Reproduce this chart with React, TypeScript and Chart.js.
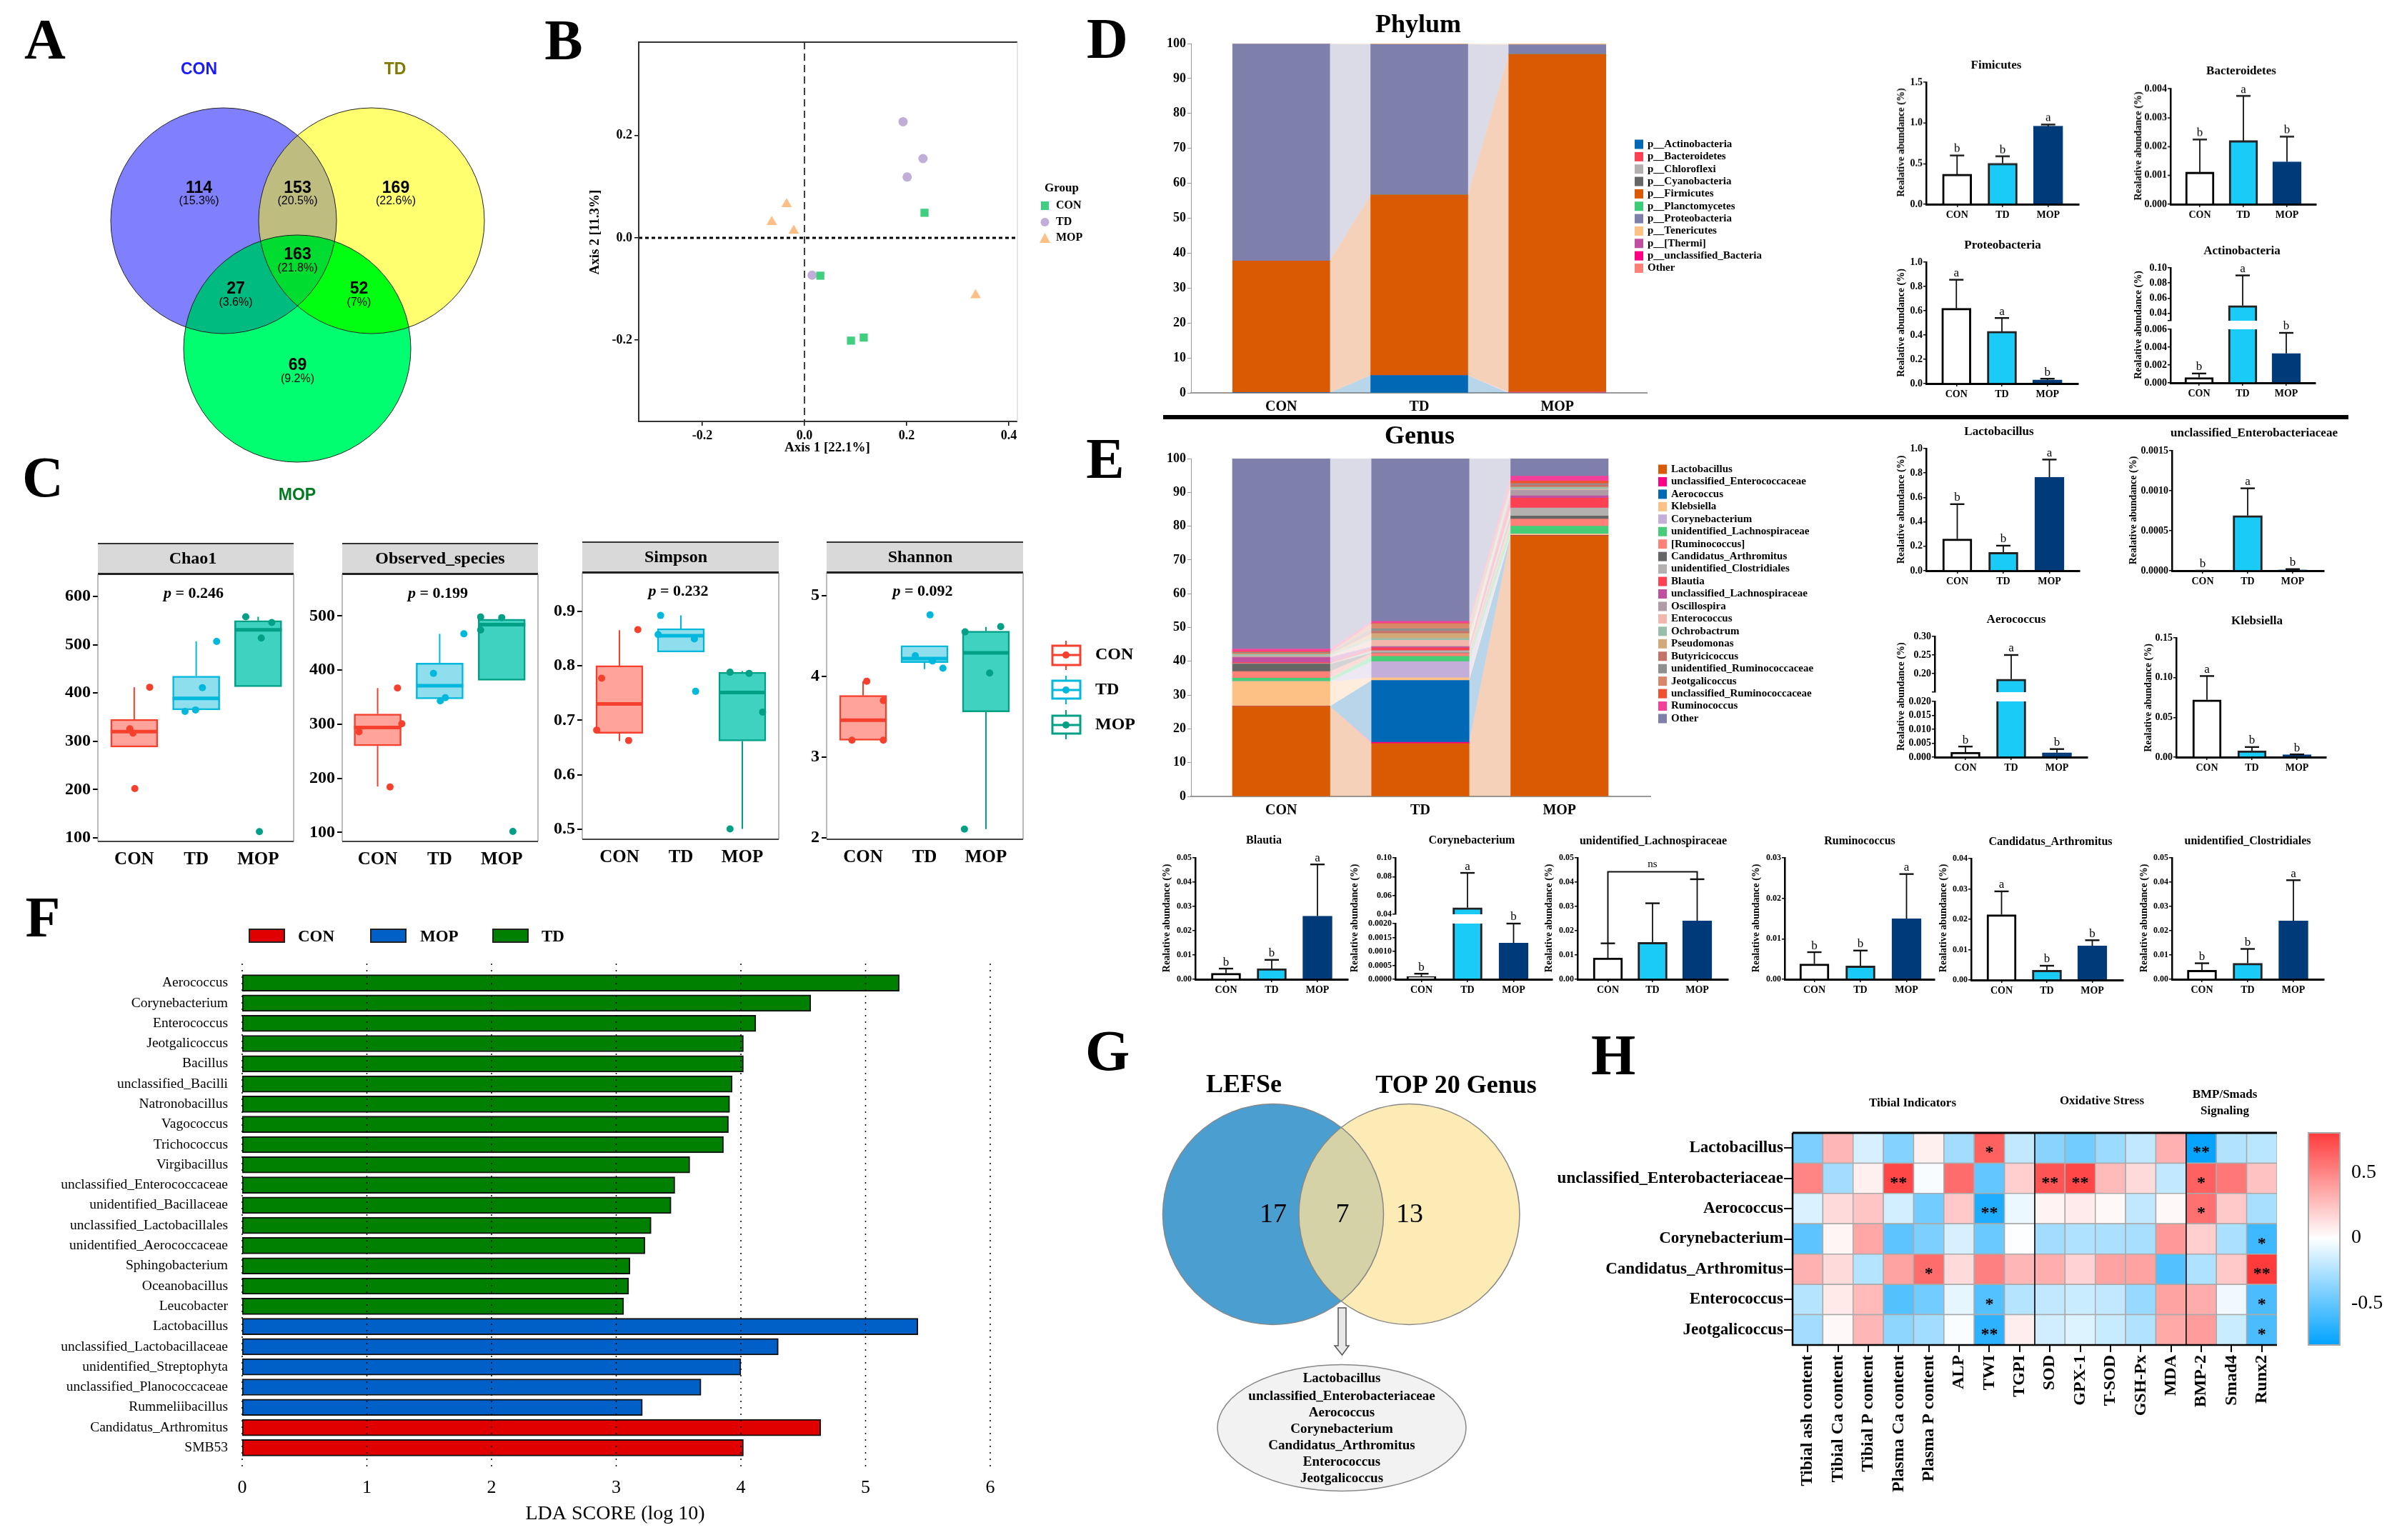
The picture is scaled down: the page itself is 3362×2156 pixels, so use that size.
import React, { useEffect, useRef } from 'react';
import { Chart, registerables } from 'chart.js';

Chart.register(...registerables);
Chart.defaults.font.family = '"Liberation Serif"';
Chart.defaults.color = '#000';

// ---------- DATA ----------
const categories = ['CON', 'TD', 'MOP'];

// PCoA
const pcoaCon = [[0.235, 0.049], [0.031, -0.074], [0.116, -0.195], [0.091, -0.201]];
const pcoaTd = [[0.193, 0.227], [0.232, 0.155], [0.201, 0.119], [0.015, -0.073]];
const pcoaMop = [[-0.035, 0.066], [-0.064, 0.031], [-0.021, 0.014], [0.335, -0.112]];

// Box plots: [q1, median, q3, whiskerLow, whiskerHigh]
const chao1Box = [[288, 320, 345.5, 288, 412], [365, 389, 435, 365, 507], [413, 531, 550, 413, 558]];
const chao1Pts = [[1.25, 412], [1.01, 202], [0.93, 326], [0.98, 317], [2.33, 507], [2.1, 411], [1.82, 362], [1.99, 365], [2.8, 558], [3.22, 546], [3.05, 514], [3.02, 113]];
const observedBox = [[260, 294, 319, 185, 367], [347, 371, 413, 347, 467], [381, 484, 494, 381, 498]];
const observedPts = [[1.32, 367], [1.2, 184], [1.39, 301], [0.7, 286], [2.39, 467], [1.9, 394], [2.09, 349], [2.01, 343], [2.66, 498], [2.66, 474], [3.18, 102], [3.0, 497]];
const simpsonBox = [[0.676, 0.73, 0.8, 0.662, 0.865], [0.825, 0.855, 0.868, 0.825, 0.892], [0.662, 0.751, 0.788, 0.501, 0.79]];
const simpsonPts = [[1.3, 0.866], [0.71, 0.777], [0.63, 0.682], [1.15, 0.663], [1.67, 0.892], [1.63, 0.857], [2.22, 0.849], [2.24, 0.753], [2.8, 0.788], [3.11, 0.786], [3.33, 0.715], [2.8, 0.501]];
const shannonBox = [[3.208, 3.457, 3.763, 3.208, 3.94], [4.17, 4.22, 4.38, 4.09, 4.38], [3.56, 4.29, 4.56, 2.11, 4.61]];
const shannonPts = [[1.06, 3.94], [1.33, 3.7], [0.82, 3.21], [1.33, 3.21], [2.09, 4.76], [1.85, 4.255], [2.13, 4.19], [2.3, 4.1], [3.24, 4.615], [2.66, 4.55], [3.06, 4.04], [2.65, 2.11]];

// Stacked phylum
const phylumNames = ['p__Actinobacteria', 'p__Bacteroidetes', 'p__Chloroflexi', 'p__Cyanobacteria', 'p__Firmicutes', 'p__Planctomycetes', 'p__Proteobacteria', 'p__Tenericutes', 'p__[Thermi]', 'p__unclassified_Bacteria', 'Other'];
const phylumCon = [0.05, 0, 0, 0, 37.7, 0, 62.15, 0.1, 0, 0, 0];
const phylumTd = [5, 0, 0, 0, 51.7, 0, 43.1, 0.2, 0, 0, 0];
const phylumMop = [0, 0.3, 0, 0, 96.6, 0, 2.8, 0.3, 0, 0, 0];
const phylumColors = ['#0168b5', '#fd4152', '#b4b0b0', '#666666', '#da5a03', '#3ccb78', '#7f7fab', '#fdc085', '#c0509f', '#ff0085', '#ff8076'];

// Stacked genus
const genusNames = ['Lactobacillus', 'unclassified_Enterococcaceae', 'Aerococcus', 'Klebsiella', 'Corynebacterium', 'unidentified_Lachnospiraceae', '[Ruminococcus]', 'Candidatus_Arthromitus', 'unidentified_Clostridiales', 'Blautia', 'unclassified_Lachnospiraceae', 'Oscillospira', 'Enterococcus', 'Ochrobactrum', 'Pseudomonas', 'Butyricicoccus', 'unidentified_Ruminococcaceae', 'Jeotgalicoccus', 'unclassified_Ruminococcaceae', 'Ruminococcus', 'Other'];
const genusCon = [26.7, 0, 0, 7.3, 0.1, 0.9, 2, 2.2, 0.15, 0.25, 1.5, 0.3, 0.2, 0.4, 0.2, 0.2, 0.25, 0.05, 0.2, 0.75, 56.35];
const genusTd = [15.7, 0.35, 18.3, 0.8, 4.8, 1.5, 0.9, 0.15, 0.65, 0.8, 0.3, 0.2, 1.8, 0.5, 1.5, 0.7, 0.7, 1.5, 0.1, 0.6, 48.15];
const genusMop = [77.2, 0, 0.1, 0.4, 0, 2.3, 2.1, 0.9, 2.4, 2.9, 0.7, 1.7, 0.2, 0.6, 0.1, 0.6, 0.4, 0, 0.8, 1.4, 5.2];
const genusColors = ['#da5a03', '#ff0085', '#0168b5', '#fdc085', '#c2aed8', '#45cd78', '#ff8076', '#666666', '#b4b0b0', '#fd4152', '#c0509f', '#b09aa5', '#f2b6ac', '#98bfab', '#d2aa78', '#c57368', '#908f90', '#d88868', '#f05030', '#f5409b', '#7f7fab'];
const stackTicks = [0, 10, 20, 30, 40, 50, 60, 70, 80, 90, 100];

// Small bar panels: means, upper error ends, letters
const firmMeans = [0.37, 0.505, 0.96]; const firmUpper = [0.6, 0.59, 0.98]; const firmLetters = ['b', 'b', 'a'];
const bactMeans = [0.00111, 0.0022, 0.00147]; const bactUpper = [0.00224, 0.00375, 0.00234]; const bactLetters = ['b', 'a', 'b'];
const protMeans = [0.62, 0.43, 0.03]; const protUpper = [0.855, 0.54, 0.04]; const protLetters = ['a', 'a', 'b'];
const actiMeans = [0.0006, 0.05, 0.0033]; const actiUpper = [0.00105, 0.09, 0.0056]; const actiLetters = ['b', 'a', 'b'];
const lactMeans = [0.26, 0.15, 0.765]; const lactUpper = [0.545, 0.205, 0.91]; const lactLetters = ['b', 'b', 'a'];
const enteMeans = [0, 0.00069, 0.00001]; const enteUpper = [0, 0.00103, 0.00002]; const enteLetters = ['b', 'a', 'b'];
const aeroMeans = [0.0018, 0.185, 0.0016]; const aeroUpper = [0.0038, 0.25, 0.0029]; const aeroLetters = ['b', 'a', 'b'];
const klebMeans = [0.072, 0.008, 0.003]; const klebUpper = [0.102, 0.0127, 0.0035]; const klebLetters = ['a', 'b', 'b'];
const blauMeans = [0.0025, 0.0044, 0.026]; const blauUpper = [0.0044, 0.008, 0.0473]; const blauLetters = ['b', 'b', 'a'];
const coryMeans = [0.0001, 0.047, 0.0013]; const coryUpper = [0.0002, 0.084, 0.002]; const coryLetters = ['b', 'a', 'b'];
const lachMeans = [0.0088, 0.0152, 0.024]; const lachUpper = [0.0148, 0.0313, 0.0412]; const lachLetters = ['', '', ''];
const rumiMeans = [0.0038, 0.0033, 0.015]; const rumiUpper = [0.0067, 0.0071, 0.026]; const rumiLetters = ['b', 'b', 'a'];
const candMeans = [0.0215, 0.0032, 0.0112]; const candUpper = [0.0292, 0.0047, 0.0131]; const candLetters = ['a', 'b', 'b'];
const closMeans = [0.0037, 0.0066, 0.024]; const closUpper = [0.0066, 0.0125, 0.0408]; const closLetters = ['b', 'b', 'a'];

// LDA
const ldaNames = ['Aerococcus', 'Corynebacterium', 'Enterococcus', 'Jeotgalicoccus', 'Bacillus', 'unclassified_Bacilli', 'Natronobacillus', 'Vagococcus', 'Trichococcus', 'Virgibacillus', 'unclassified_Enterococcaceae', 'unidentified_Bacillaceae', 'unclassified_Lactobacillales', 'unidentified_Aerococcaceae', 'Sphingobacterium', 'Oceanobacillus', 'Leucobacter', 'Lactobacillus', 'unclassified_Lactobacillaceae', 'unidentified_Streptophyta', 'unclassified_Planococcaceae', 'Rummeliibacillus', 'Candidatus_Arthromitus', 'SMB53'];
const ldaScores = [5.27, 4.56, 4.12, 4.02, 4.02, 3.93, 3.91, 3.9, 3.86, 3.59, 3.47, 3.44, 3.28, 3.23, 3.11, 3.1, 3.06, 5.42, 4.3, 4.0, 3.68, 3.21, 4.64, 4.02];
const ldaGroups = ['TD', 'TD', 'TD', 'TD', 'TD', 'TD', 'TD', 'TD', 'TD', 'TD', 'TD', 'TD', 'TD', 'TD', 'TD', 'TD', 'TD', 'MOP', 'MOP', 'MOP', 'MOP', 'MOP', 'CON', 'CON'];

// Heatmap
const heatRows = ['Lactobacillus', 'unclassified_Enterobacteriaceae', 'Aerococcus', 'Corynebacterium', 'Candidatus_Arthromitus', 'Enterococcus', 'Jeotgalicoccus'];
const heatCols = ['Tibial ash content', 'Tibial Ca content', 'Tibial P content', 'Plasma Ca content', 'Plasma P content', 'ALP', 'TWI', 'TGPI', 'SOD', 'GPX-1', 'T-SOD', 'GSH-Px', 'MDA', 'BMP-2', 'Smad4', 'Runx2'];
const heatLacto = [-0.42, 0.3, -0.13, -0.4, 0.06, -0.3, 0.65, -0.2, -0.38, -0.45, -0.32, -0.2, 0.32, -0.8, -0.25, -0.22];
const heatEntero = [0.5, -0.3, 0.06, 0.75, -0.03, 0.6, -0.5, 0.2, 0.7, 0.75, 0.28, 0.15, -0.2, 0.65, 0.55, 0.25];
const heatAero = [-0.12, 0.15, 0.24, -0.14, -0.45, 0.22, -0.72, -0.06, 0.05, 0.08, 0.03, -0.2, 0.03, 0.58, 0.22, -0.28];
const heatCory = [-0.52, 0.04, 0.36, -0.52, -0.42, -0.13, -0.48, -0.01, -0.3, -0.26, -0.27, -0.28, 0.42, 0.2, -0.27, -0.62];
const heatCand = [0.32, 0.15, -0.24, 0.38, 0.6, 0.15, 0.52, 0.3, 0.33, 0.18, 0.38, 0.38, -0.55, -0.26, 0.22, 0.8];
const heatEnte = [-0.24, 0.09, 0.28, -0.55, -0.45, -0.08, -0.55, -0.24, -0.2, -0.17, -0.2, -0.33, 0.38, 0.34, -0.05, -0.58];
const heatJeot = [-0.3, 0.03, 0.3, -0.36, -0.3, -0.02, -0.68, 0.07, -0.15, -0.11, -0.18, -0.25, 0.35, 0.4, -0.17, -0.58];
const heatStars = [
  ['', '', '', '', '', '', '*', '', '', '', '', '', '', '**', '', ''],
  ['', '', '', '**', '', '', '', '', '**', '**', '', '', '', '*', '', ''],
  ['', '', '', '', '', '', '**', '', '', '', '', '', '', '*', '', ''],
  ['', '', '', '', '', '', '', '', '', '', '', '', '', '', '', '*'],
  ['', '', '', '', '*', '', '', '', '', '', '', '', '', '', '', '**'],
  ['', '', '', '', '', '', '*', '', '', '', '', '', '', '', '', '*'],
  ['', '', '', '', '', '', '**', '', '', '', '', '', '', '', '', '*'],
];

// Venn sets
const vennAPct = ['(15.3%)', '(20.5%)', '(22.6%)', '(21.8%)', '(3.6%)', '(7%)', '(9.2%)'];
const vennACounts = ['114', '153', '169', '163', '27', '52', '69'];
const vennGCounts = ['17', '7', '13'];
const sharedGenera = ['Lactobacillus', 'unclassified_Enterobacteriaceae', 'Aerococcus', 'Corynebacterium', 'Candidatus_Arthromitus', 'Enterococcus', 'Jeotgalicoccus'];

// ---------- LAYOUT HELPERS ----------
type Frame = { x: number; y: number; w: number; h: number; L: number; T: number; R: number; B: number };
type T = { t: string; x: number; y: number; f: string; c?: string; a?: CanvasTextAlign; rot?: number };
const serif = '"Liberation Serif"';
const sans = '"Liberation Sans"';

function frame(r: { l: number; t: number; r: number; b: number }, L: number, T: number, R: number, B: number): Frame {
  return { x: r.l - L, y: r.t - T, w: r.r - r.l + L + R, h: r.b - r.t + T + B, L, T, R, B };
}
const fitX = (B: number) => (s: any) => { s.height = B; s.paddingLeft = 0; s.paddingRight = 0; };
const fitY = (L: number) => (s: any) => { s.width = L; s.paddingTop = 0; s.paddingBottom = 0; };
const fixedTicks = (vals: number[]) => (s: any) => { s.ticks = vals.map((value) => ({ value })); };

function baseOpts(f: Frame, extra: any) {
  return {
    responsive: false,
    animation: false,
    events: [],
    layout: { autoPadding: false, padding: { left: 0, top: f.T, right: f.R, bottom: 0 } },
    plugins: { legend: { display: false }, tooltip: { enabled: false } },
    ...extra,
  };
}
function drawTexts(ctx: CanvasRenderingContext2D, f: Frame, items: T[]) {
  items.forEach((i) => {
    ctx.save();
    ctx.translate(i.x - f.x, i.y - f.y);
    if (i.rot) ctx.rotate(i.rot);
    ctx.font = i.f;
    ctx.fillStyle = i.c || '#000';
    ctx.textAlign = i.a || 'center';
    ctx.textBaseline = 'middle';
    ctx.fillText(i.t, 0, 0);
    ctx.restore();
  });
}
const textsPlugin = (f: Frame, items: T[]) => ({ id: 'texts', afterDraw(ch: any) { drawTexts(ch.ctx, f, items); } });
const xRange = (cx: number[], l: number, r: number) => {
  const u = (cx[2] - cx[0]) / 2;
  return { min: 2 - (cx[1] - l) / u, max: 2 + (r - cx[1]) / u };
};

// ---------- VENN ----------
function vennPlugin(regions: { sets: number[]; color: string }[], edge: string, edgeW: number) {
  return {
    id: 'vennRegions',
    afterDatasetsDraw(ch: any) {
      const ctx = ch.ctx;
      const pts = ch.data.datasets.map((_: any, i: number) => ch.getDatasetMeta(i).data[0]);
      regions.forEach((rg) => {
        ctx.save();
        rg.sets.forEach((k) => {
          const p = pts[k];
          ctx.beginPath();
          ctx.arc(p.x, p.y, p.options.radius, 0, Math.PI * 2);
          ctx.clip();
        });
        ctx.fillStyle = rg.color;
        ctx.fillRect(0, 0, ch.width, ch.height);
        ctx.restore();
      });
      ctx.save();
      ctx.strokeStyle = edge;
      ctx.lineWidth = edgeW;
      pts.forEach((p: any) => { ctx.beginPath(); ctx.arc(p.x, p.y, p.options.radius, 0, Math.PI * 2); ctx.stroke(); });
      ctx.restore();
    },
  };
}
function vennCfg(f: Frame, sets: any[], regions: any[], edge: string, edgeW: number, plugins: any[]) {
  return {
    type: 'bubble',
    data: { datasets: sets.map((s) => ({ label: s.name, data: [{ x: s.x, y: s.y, r: s.r }], backgroundColor: s.color, borderWidth: 0 })) },
    options: {
      ...baseOpts(f, {}),
      layout: { autoPadding: false, padding: 0 },
      scales: {
        x: { type: 'linear', bounds: 'data', min: f.x, max: f.x + f.w, display: false },
        y: { type: 'linear', bounds: 'data', min: f.y, max: f.y + f.h, reverse: true, display: false },
      },
    },
    plugins: [vennPlugin(regions, edge, edgeW), ...plugins],
  };
}
const vennASets = [
  { name: 'CON', x: 313, y: 309, r: 158, color: '#8080ff' },
  { name: 'TD', x: 520, y: 309, r: 158, color: '#ffff70' },
  { name: 'MOP', x: 416, y: 488, r: 159, color: '#00ff70' },
];
const vennARegions = [
  { sets: [0, 1], color: '#bfbc80' },
  { sets: [0, 2], color: '#00bb80' },
  { sets: [1, 2], color: '#00ff10' },
  { sets: [0, 1, 2], color: '#00dc30' },
];
const vennAPos = [[278.5, 263.5], [416.5, 263.5], [554, 263.5], [416.5, 357], [330, 405], [502.5, 405], [416.5, 512]];
function vennAPanel() {
  const f: Frame = { x: 120, y: 70, w: 600, h: 650, L: 0, T: 0, R: 0, B: 0 };
  const items: T[] = [
    { t: 'CON', x: 278.5, y: 98, f: `bold 23px ${sans}`, c: '#1a1aff' },
    { t: 'TD', x: 553, y: 98, f: `bold 23px ${sans}`, c: '#807a00' },
    { t: 'MOP', x: 416, y: 694, f: `bold 23px ${sans}`, c: '#007a20' },
  ];
  vennACounts.forEach((c, i) => {
    items.push({ t: c, x: vennAPos[i][0], y: vennAPos[i][1], f: `bold 23px ${sans}` });
    items.push({ t: vennAPct[i], x: vennAPos[i][0], y: vennAPos[i][1] + 18.5, f: `16px ${sans}` });
  });
  return { f, cfg: () => vennCfg(f, vennASets, vennARegions, '#222', 1, [textsPlugin(f, items)]) };
}
const vennGSets = [
  { name: 'LEFSe', x: 1782, y: 1700, r: 154.5, color: '#4b9fd0' },
  { name: 'TOP 20 Genus', x: 1972.5, y: 1700, r: 154.5, color: '#fdebb5' },
];
const vennGRegions = [{ sets: [0, 1], color: '#d5d2a8' }];
function vennGPanel() {
  const f: Frame = { x: 1600, y: 1490, w: 560, h: 620, L: 0, T: 0, R: 0, B: 0 };
  const items: T[] = [
    { t: 'LEFSe', x: 1741, y: 1520, f: `bold 36px ${serif}` },
    { t: 'TOP 20 Genus', x: 2038, y: 1521, f: `bold 36px ${serif}` },
    { t: vennGCounts[0], x: 1782, y: 1701, f: `38px ${serif}` },
    { t: vennGCounts[1], x: 1879, y: 1701, f: `38px ${serif}` },
    { t: vennGCounts[2], x: 1973, y: 1701, f: `38px ${serif}` },
  ];
  const lineY = [1929.5, 1954, 1977, 2000, 2023, 2046, 2069];
  const callout = {
    id: 'callout',
    afterDatasetsDraw(ch: any) {
      const c = ch.ctx;
      c.save();
      c.translate(-f.x, -f.y);
      c.beginPath();
      c.ellipse(1878, 1999, 174, 88.5, 0, 0, Math.PI * 2);
      c.fillStyle = '#f2f2f2';
      c.fill();
      c.strokeStyle = '#888';
      c.lineWidth = 1.5;
      c.stroke();
      c.beginPath();
      c.moveTo(1873, 1831); c.lineTo(1884, 1831); c.lineTo(1884, 1884); c.lineTo(1888, 1884);
      c.lineTo(1878.5, 1897); c.lineTo(1868, 1884); c.lineTo(1873, 1884); c.closePath();
      c.fillStyle = '#e8e8e8';
      c.fill();
      c.strokeStyle = '#555';
      c.stroke();
      c.restore();
    },
  };
  sharedGenera.forEach((g, i) => items.push({ t: g, x: 1878, y: lineY[i] + 1, f: `bold 19px ${serif}` }));
  return { f, cfg: () => vennCfg(f, vennGSets, vennGRegions, '#888', 1.5, [callout, textsPlugin(f, items)]) };
}

// ---------- PCoA ----------
function pcoaPanel() {
  const rect = { l: 894, t: 59, r: 1424, b: 590 };
  const f = frame(rect, 70, 5, 130, 60);
  const xs = [-0.2, 0, 0.2, 0.4];
  const ys = [-0.2, 0, 0.2];
  const items: T[] = [
    { t: 'Axis 1 [22.1%]', x: 1158, y: 627, f: `bold 19px ${serif}` },
    { t: 'Axis 2 [11.3%]', x: 833, y: 325, f: `bold 19px ${serif}`, rot: -Math.PI / 2 },
    { t: 'Group', x: 1462, y: 264, f: `bold 17px ${serif}`, a: 'left' },
    { t: 'CON', x: 1478, y: 288, f: `bold 16px ${serif}`, a: 'left' },
    { t: 'TD', x: 1478, y: 311, f: `bold 16px ${serif}`, a: 'left' },
    { t: 'MOP', x: 1478, y: 333, f: `bold 16px ${serif}`, a: 'left' },
  ];
  const deco = {
    id: 'pcoaDeco',
    beforeDatasetsDraw(ch: any) {
      const { ctx: c, chartArea: a, scales: s } = ch;
      c.save();
      c.strokeStyle = '#000';
      c.lineWidth = 1.5;
      c.setLineDash([10, 6]);
      const x0 = s.x.getPixelForValue(0);
      c.beginPath(); c.moveTo(x0, a.top); c.lineTo(x0, a.bottom); c.stroke();
      c.lineWidth = 3;
      c.setLineDash([5, 4]);
      const y0 = s.y.getPixelForValue(0);
      c.beginPath(); c.moveTo(a.left, y0); c.lineTo(a.right, y0); c.stroke();
      c.setLineDash([]);
      c.strokeStyle = '#333';
      c.lineWidth = 2;
      c.beginPath(); c.moveTo(a.right, a.top); c.lineTo(a.left, a.top); c.lineTo(a.left, a.bottom); c.lineTo(a.right, a.bottom); c.stroke();
      c.strokeStyle = '#ccc';
      c.lineWidth = 1;
      c.beginPath(); c.moveTo(a.right, a.top); c.lineTo(a.right, a.bottom); c.stroke();
      // legend keys
      c.translate(-f.x, -f.y);
      c.fillStyle = '#3fcf7f'; c.fillRect(1457, 282, 11, 12);
      c.fillStyle = '#c0aed8'; c.beginPath(); c.arc(1462.5, 311, 6, 0, Math.PI * 2); c.fill();
      c.fillStyle = '#fdbf85'; c.beginPath(); c.moveTo(1462.5, 326); c.lineTo(1470, 340); c.lineTo(1455, 340); c.closePath(); c.fill();
      c.restore();
    },
  };
  const ds = (label: string, pts: number[][], color: string, style: string, radius: number) => ({
    label, data: pts.map(([x, y]) => ({ x, y })), pointStyle: style, pointRadius: radius, pointBackgroundColor: color, pointBorderWidth: 0, showLine: false,
  });
  return {
    f,
    cfg: () => ({
      type: 'scatter',
      data: { datasets: [ds('CON', pcoaCon, '#3fcf7f', 'rect', 8), ds('TD', pcoaTd, '#c0aed8', 'circle', 6.5), ds('MOP', pcoaMop, '#fdbf85', 'triangle', 8.5)] },
      options: baseOpts(f, {
        scales: {
          x: {
            type: 'linear', bounds: 'data', min: -0.3245, max: 0.4168, afterBuildTicks: fixedTicks(xs), afterFit: fitX(f.B),
            ticks: { callback: (v: number) => v.toFixed(1), font: { size: 18, weight: 'bold' }, padding: 4, maxRotation: 0, autoSkip: false },
            grid: { drawOnChartArea: false, tickLength: 6, color: '#000', lineWidth: 1.5 }, border: { display: false },
          },
          y: {
            type: 'linear', bounds: 'data', min: -0.359, max: 0.3827, afterBuildTicks: fixedTicks(ys), afterFit: fitY(f.L),
            ticks: { callback: (v: number) => v.toFixed(1), font: { size: 18, weight: 'bold' }, padding: 3, autoSkip: false },
            grid: { drawOnChartArea: false, tickLength: 6, color: '#000', lineWidth: 1.5 }, border: { display: false },
          },
        },
      }),
      plugins: [deco, textsPlugin(f, items)],
    }),
  };
}

// ---------- BOX PANELS ----------
const boxFill = ['#ffa39b', '#8fdeed', '#3fd2c0'];
const boxStroke = ['#f4402c', '#00b8dc', '#00a087'];
function boxPanel(p: any) {
  const f = frame(p.rect, 62, 48, p.legend ? 190 : 4, 50);
  const range = xRange(p.cx, p.rect.l, p.rect.r);
  const groupOf = (x: number) => Math.min(2, Math.max(0, Math.round(x) - 1));
  const deco = {
    id: 'boxDeco',
    afterDatasetDraw(ch: any, args: any) {
      if (args.meta.type !== 'bar') return;
      const { ctx: c, scales: s } = ch;
      c.save();
      p.box.forEach((b: number[], i: number) => {
        const x = s.x.getPixelForValue(i + 1);
        c.strokeStyle = boxStroke[i];
        c.lineWidth = 2;
        c.beginPath();
        c.moveTo(x, s.y.getPixelForValue(b[2])); c.lineTo(x, s.y.getPixelForValue(b[4]));
        c.moveTo(x, s.y.getPixelForValue(b[0])); c.lineTo(x, s.y.getPixelForValue(b[3]));
        c.stroke();
        c.lineWidth = 5;
        const ym = s.y.getPixelForValue(b[1]);
        c.beginPath(); c.moveTo(x - 33, ym); c.lineTo(x + 33, ym); c.stroke();
      });
      c.restore();
    },
    afterDraw(ch: any) {
      const { ctx: c, chartArea: a } = ch;
      c.save();
      c.fillStyle = '#d9d9d9';
      c.fillRect(a.left, a.top - 43, a.right - a.left, 43);
      c.fillStyle = '#333';
      c.fillRect(a.left, a.top - 44, a.right - a.left, 2);
      c.fillStyle = '#222';
      c.fillRect(a.left, a.top - 2, a.right - a.left, 3);
      c.strokeStyle = '#777';
      c.lineWidth = 1;
      c.beginPath(); c.moveTo(a.left, a.top); c.lineTo(a.left, a.bottom); c.moveTo(a.right, a.top); c.lineTo(a.right, a.bottom); c.stroke();
      c.strokeStyle = '#444';
      c.lineWidth = 2;
      c.beginPath(); c.moveTo(a.left, a.bottom); c.lineTo(a.right, a.bottom); c.stroke();
      // p value
      c.textBaseline = 'middle';
      c.textAlign = 'left';
      const rest = ' = ' + p.pval;
      c.font = `italic bold 22px ${serif}`;
      const w1 = c.measureText('p').width;
      c.fillStyle = '#000';
      const startX = (a.left + a.right) / 2 - 45;
      c.fillText('p', startX, p.pY - f.y);
      c.font = `bold 22px ${serif}`;
      c.fillText(rest, startX + w1, p.pY - f.y);
      if (p.legend) {
        const rows = [[917, 904, 931, 897, 938], [966, 953, 978, 946, 986], [1015, 1002, 1027, 994, 1035]];
        c.translate(-f.x, -f.y);
        rows.forEach((r, i) => {
          c.strokeStyle = boxStroke[i];
          c.lineWidth = 2;
          c.beginPath(); c.moveTo(1492, r[3]); c.lineTo(1492, r[4]); c.stroke();
          c.fillStyle = '#fff';
          c.fillRect(1473, r[1], 39, r[2] - r[1]);
          c.lineWidth = 3;
          c.strokeRect(1473, r[1], 39, r[2] - r[1]);
          c.beginPath(); c.moveTo(1473, r[0]); c.lineTo(1512, r[0]); c.stroke();
          c.fillStyle = boxStroke[i];
          c.beginPath(); c.arc(1492, r[0], 5, 0, Math.PI * 2); c.fill();
        });
      }
      c.restore();
    },
  };
  const items: T[] = [{ t: p.title, x: p.titleX, y: p.titleY, f: `bold 24px ${serif}` }];
  if (p.legend) {
    [917, 966, 1015].forEach((y, i) => items.push({ t: categories[i], x: 1533, y, f: `bold 24px ${serif}`, a: 'left' }));
  }
  return {
    f,
    cfg: () => ({
      type: 'bar',
      data: {
        datasets: [
          {
            type: 'scatter', order: 0, data: p.pts.map(([x, y]: number[]) => ({ x, y })), showLine: false, pointRadius: 5, pointBorderWidth: 0,
            pointBackgroundColor: p.pts.map(([x]: number[]) => boxStroke[groupOf(x)]),
          },
          {
            type: 'bar', order: 1, data: p.box.map((b: number[], i: number) => ({ x: i + 1, y: [b[0], b[2]] })),
            backgroundColor: boxFill, borderColor: boxStroke, borderWidth: 2.5, borderSkipped: false, barThickness: 66,
          },
        ],
      },
      options: baseOpts(f, {
        scales: {
          x: {
            type: 'linear', bounds: 'data', offset: false, min: range.min, max: range.max, afterBuildTicks: fixedTicks([1, 2, 3]), afterFit: fitX(f.B),
            ticks: { callback: (v: number) => categories[v - 1], font: { size: 25, weight: 'bold' }, padding: 3, maxRotation: 0, autoSkip: false },
            grid: { display: false, offset: false }, border: { display: false },
          },
          y: {
            type: 'linear', bounds: 'data', min: p.min, max: p.max, afterBuildTicks: fixedTicks(p.ticks), afterFit: fitY(f.L),
            ticks: { callback: (v: number) => String(v), font: { size: 24, weight: 'bold' }, padding: 3, autoSkip: false },
            grid: { drawOnChartArea: false, tickLength: 7, color: '#000', lineWidth: 2 }, border: { display: false },
          },
        },
      }),
      plugins: [deco, textsPlugin(f, items)],
    }),
  };
}
const boxPanels = [
  { title: 'Chao1', pval: '0.246', box: chao1Box, pts: chao1Pts, rect: { l: 137, t: 804, r: 411, b: 1178 }, cx: [187.3, 274.6, 360.8], min: 92.6, max: 646, ticks: [100, 200, 300, 400, 500, 600], titleX: 270, titleY: 783, pY: 831 },
  { title: 'Observed_species', pval: '0.199', box: observedBox, pts: observedPts, rect: { l: 479, t: 804, r: 753, b: 1178 }, cx: [529, 615.4, 702.7], min: 83.5, max: 577, ticks: [100, 200, 300, 400, 500], titleX: 616, titleY: 783, pY: 831 },
  { title: 'Simpson', pval: '0.232', box: simpsonBox, pts: simpsonPts, rect: { l: 815, t: 802, r: 1090, b: 1175 }, cx: [867, 953, 1039], min: 0.482, max: 0.97, ticks: [0.5, 0.6, 0.7, 0.8, 0.9], titleX: 946, titleY: 781, pY: 828.5 },
  { title: 'Shannon', pval: '0.092', box: shannonBox, pts: shannonPts, rect: { l: 1157, t: 802, r: 1432, b: 1175 }, cx: [1208, 1294, 1380], min: 1.984, max: 5.28, ticks: [2, 3, 4, 5], titleX: 1288, titleY: 781, pY: 828.5, legend: true },
];

// ---------- STACKED ----------
function stackPanel(p: any) {
  const f = frame(p.rect, 55, 5, p.legendR, 40);
  const range = xRange(p.cx, p.rect.l, p.rect.r);
  const ribbons = {
    id: 'ribbons',
    beforeDatasetsDraw(ch: any) {
      const c = ch.ctx;
      c.save();
      c.globalAlpha = 0.28;
      ch.data.datasets.forEach((d: any, i: number) => {
        const els = ch.getDatasetMeta(i).data;
        c.fillStyle = d.backgroundColor;
        for (let k = 0; k < 2; k++) {
          const a = els[k];
          const b = els[k + 1];
          c.beginPath();
          c.moveTo(a.x + a.width / 2, a.y);
          c.lineTo(b.x - b.width / 2, b.y);
          c.lineTo(b.x - b.width / 2, b.base);
          c.lineTo(a.x + a.width / 2, a.base);
          c.closePath();
          c.fill();
        }
      });
      c.restore();
    },
    afterDraw(ch: any) {
      const c = ch.ctx;
      c.save();
      c.translate(-f.x, -f.y);
      c.textBaseline = 'middle';
      c.textAlign = 'left';
      c.font = `bold 15px ${serif}`;
      ch.data.datasets.forEach((d: any, i: number) => {
        const y = p.legY + i * p.legStep;
        c.fillStyle = d.backgroundColor;
        c.fillRect(p.legX, y - 6.5, 12, 13);
        c.fillStyle = '#000';
        c.fillText(d.label, p.legX + 18, y);
      });
      c.restore();
    },
  };
  return {
    f,
    cfg: () => ({
      type: 'bar',
      data: {
        datasets: p.names.map((n: string, i: number) => ({
          label: n,
          backgroundColor: p.colors[i],
          barThickness: p.bw,
          borderWidth: 0,
          data: [p.con[i], p.td[i], p.mop[i]].map((y, k) => ({ x: k + 1, y })),
        })),
      },
      options: baseOpts(f, {
        scales: {
          x: {
            type: 'linear', bounds: 'data', stacked: true, offset: false, min: range.min, max: range.max, afterBuildTicks: fixedTicks([1, 2, 3]), afterFit: fitX(f.B),
            ticks: { callback: (v: number) => categories[v - 1], font: { size: 20, weight: 'bold' }, padding: 0, maxRotation: 0, autoSkip: false },
            grid: { display: false, offset: false }, border: { color: '#999', width: 2 },
          },
          y: {
            type: 'linear', bounds: 'data', stacked: true, min: 0, max: 100, afterBuildTicks: fixedTicks(stackTicks), afterFit: fitY(f.L),
            ticks: { callback: (v: number) => String(v), font: { size: 18, weight: 'bold' }, padding: 2, autoSkip: false },
            grid: { drawOnChartArea: false, tickLength: 5, color: '#999', lineWidth: 1 }, border: { color: '#999', width: 1 },
          },
        },
      }),
      plugins: [ribbons, textsPlugin(f, [{ t: p.title, x: p.titleX, y: p.titleY, f: `bold 36px ${serif}` }])],
    }),
  };
}

// ---------- SMALL BARS ----------
function barSeg(p: any, seg: any, first: boolean) {
  const rect = { l: p.ax, t: seg.t, r: p.end, b: seg.b };
  const f = frame(rect, 95, 46, 42, first && p.segs.length > 1 ? 130 : 36);
  const range = xRange(p.cx, p.ax, p.end);
  const deco = {
    id: 'barDeco',
    afterDatasetsDraw(ch: any) {
      const { ctx: c, scales: s } = ch;
      const els = ch.getDatasetMeta(0).data;
      c.save();
      c.strokeStyle = '#111';
      c.fillStyle = '#000';
      p.means.forEach((m: number, i: number) => {
        const hi = p.uppers[i];
        if (hi > seg.max || hi < seg.min) return;
        const x = els[i].x;
        const yH = s.y.getPixelForValue(hi);
        c.lineWidth = 1.8;
        c.beginPath(); c.moveTo(x, s.y.getPixelForValue(m)); c.lineTo(x, yH); c.stroke();
        c.lineWidth = 2.4;
        c.beginPath(); c.moveTo(x - 10, yH); c.lineTo(x + 10, yH); c.stroke();
        if (p.letters[i]) {
          c.font = `${p.letterSize || 17}px ${serif}`;
          c.textAlign = 'center';
          c.textBaseline = 'middle';
          c.fillText(p.letters[i], x, yH - 9);
        }
      });
      if (p.bracket && first) {
        const y = s.y.getPixelForValue(p.bracket.value);
        c.lineWidth = 2;
        const a = els[0].x; const b = els[2].x;
        c.beginPath();
        c.moveTo(a, s.y.getPixelForValue(p.uppers[0])); c.lineTo(a, y); c.lineTo(b, y); c.lineTo(b, s.y.getPixelForValue(p.uppers[2]));
        c.stroke();
        c.font = `15px ${serif}`;
        c.textAlign = 'center';
        c.textBaseline = 'middle';
        c.fillText(p.bracket.text, (a + b) / 2, y - 10);
      }
      c.restore();
    },
  };
  const items: T[] = first
    ? [
        { t: p.title, x: p.titleAt[0], y: p.titleAt[1], f: `bold ${p.tickSize ? 16 : 17}px ${serif}` },
        { t: 'Realative abundance (%)', x: p.labelAt[0], y: p.labelAt[1], f: `bold 14px ${serif}`, rot: -Math.PI / 2 },
      ]
    : [];
  const showX = seg.b === p.segs[p.segs.length - 1].b;
  return {
    f,
    cfg: () => ({
      type: 'bar',
      data: {
        datasets: [{
          data: p.means.map((y: number, i: number) => ({ x: i + 1, y })),
          backgroundColor: ['#ffffff', '#1acbf7', '#003a78'],
          borderColor: ['#000000', '#222222', '#003a78'],
          borderWidth: 3,
          borderSkipped: 'start',
          barThickness: p.bw,
        }],
      },
      options: baseOpts(f, {
        scales: {
          x: {
            type: 'linear', bounds: 'data', offset: false, min: range.min, max: range.max, afterBuildTicks: fixedTicks([1, 2, 3]), afterFit: fitX(f.B),
            ticks: { display: showX, callback: (v: number) => categories[v - 1], font: { size: 14, weight: 'bold' }, padding: 3, maxRotation: 0, autoSkip: false },
            grid: { drawOnChartArea: false, drawTicks: showX, tickLength: 4, color: '#000', lineWidth: 1.5, offset: false },
            border: { display: showX, color: '#000', width: 3 },
          },
          y: {
            type: 'linear', bounds: 'data', min: seg.min, max: seg.max, afterBuildTicks: fixedTicks(seg.ticks), afterFit: fitY(f.L),
            ticks: { callback: (v: number) => (v === seg.blank ? '' : v.toFixed(seg.dec)), font: { size: p.tickSize || 14, weight: 'bold' }, padding: 1, autoSkip: false },
            grid: { drawOnChartArea: false, tickLength: 4, color: '#000', lineWidth: 1.5 },
            border: { color: '#000', width: 2.5 },
          },
        },
      }),
      plugins: [deco, textsPlugin(f, items)],
    }),
  };
}
const barPanels: any[] = [
  { title: 'Fimicutes', means: firmMeans, uppers: firmUpper, letters: firmLetters, ax: 2696, end: 2910, cx: [2738.5, 2803, 2866], bw: 41, titleAt: [2794, 91.5], labelAt: [2661, 199], segs: [{ t: 115, b: 285.5, min: 0, max: 1.5, ticks: [0, 0.5, 1, 1.5], dec: 1 }] },
  { title: 'Bacteroidetes', means: bactMeans, uppers: bactUpper, letters: bactLetters, ax: 3038, end: 3242, cx: [3079, 3140, 3201], bw: 40, titleAt: [3137, 100], labelAt: [2993, 204], segs: [{ t: 124, b: 285.5, min: 0, max: 0.004, ticks: [0, 0.001, 0.002, 0.003, 0.004], dec: 3 }] },
  { title: 'Proteobacteria', means: protMeans, uppers: protUpper, letters: protLetters, ax: 2696, end: 2909, cx: [2738.5, 2802, 2866], bw: 41, titleAt: [2803, 343.5], labelAt: [2661, 452], segs: [{ t: 367, b: 537, min: 0, max: 1, ticks: [0, 0.2, 0.4, 0.6, 0.8, 1], dec: 1 }] },
  { title: 'Actinobacteria', means: actiMeans, uppers: actiUpper, letters: actiLetters, ax: 3038, end: 3241, cx: [3078, 3139, 3200], bw: 40, titleAt: [3138, 352], labelAt: [2993, 455], segs: [{ t: 375, b: 449.3, min: 0.03, max: 0.1, ticks: [0.03, 0.04, 0.06, 0.08, 0.1], dec: 2, blank: 0.03 }, { t: 461, b: 536, min: 0, max: 0.006, ticks: [0, 0.002, 0.004, 0.006], dec: 3 }] },
  { title: 'Lactobacillus', means: lactMeans, uppers: lactUpper, letters: lactLetters, ax: 2696, end: 2911, cx: [2739, 2804, 2868], bw: 41, titleAt: [2798, 604], labelAt: [2661, 713], segs: [{ t: 627.5, b: 799, min: 0, max: 1, ticks: [0, 0.2, 0.4, 0.6, 0.8, 1], dec: 1 }] },
  { title: 'unclassified_Enterobacteriaceae', means: enteMeans, uppers: enteUpper, letters: enteLetters, ax: 3040, end: 3253, cx: [3083, 3146, 3209], bw: 41, titleAt: [3155, 606], labelAt: [2986, 714], segs: [{ t: 630.5, b: 799, min: 0, max: 0.0015, ticks: [0, 0.0005, 0.001, 0.0015], dec: 4 }] },
  { title: 'Aerococcus', means: aeroMeans, uppers: aeroUpper, letters: aeroLetters, ax: 2708, end: 2922, cx: [2751, 2815, 2879], bw: 41, titleAt: [2822, 867], labelAt: [2661, 975], segs: [{ t: 890.8, b: 969, min: 0.15, max: 0.3, ticks: [0.15, 0.2, 0.25, 0.3], dec: 2, blank: 0.15 }, { t: 982, b: 1060, min: 0, max: 0.02, ticks: [0, 0.005, 0.01, 0.015, 0.02], dec: 3 }] },
  { title: 'Klebsiella', means: klebMeans, uppers: klebUpper, letters: klebLetters, ax: 3046, end: 3256, cx: [3088, 3152, 3214], bw: 40, titleAt: [3159, 870], labelAt: [3007, 977], segs: [{ t: 893, b: 1060, min: 0, max: 0.15, ticks: [0, 0.05, 0.1, 0.15], dec: 2 }] },
  { title: 'Blautia', means: blauMeans, uppers: blauUpper, letters: blauLetters, ax: 1673, end: 1887, cx: [1716, 1780, 1844], bw: 41, tickSize: 12, titleAt: [1769, 1177], labelAt: [1633, 1285], segs: [{ t: 1200.7, b: 1370.7, min: 0, max: 0.05, ticks: [0, 0.01, 0.02, 0.03, 0.04, 0.05], dec: 2 }] },
  { title: 'Corynebacterium', means: coryMeans, uppers: coryUpper, letters: coryLetters, ax: 1953, end: 2173, cx: [1990, 2054, 2119], bw: 41, tickSize: 12, titleAt: [2060, 1177], labelAt: [1896, 1285], segs: [{ t: 1200.7, b: 1280, min: 0.04, max: 0.1, ticks: [0.04, 0.06, 0.08, 0.1], dec: 2 }, { t: 1292.7, b: 1370.7, min: 0, max: 0.002, ticks: [0, 0.0005, 0.001, 0.0015, 0.002], dec: 4 }] },
  { title: 'unidentified_Lachnospiraceae', means: lachMeans, uppers: lachUpper, letters: lachLetters, ax: 2208, end: 2419, cx: [2250.5, 2313, 2375.5], bw: 41, tickSize: 12, titleAt: [2314, 1178], labelAt: [2168, 1285], bracket: { value: 0.0443, text: 'ns' }, segs: [{ t: 1200.7, b: 1370.7, min: 0, max: 0.05, ticks: [0, 0.01, 0.02, 0.03, 0.04, 0.05], dec: 2 }] },
  { title: 'Ruminococcus', means: rumiMeans, uppers: rumiUpper, letters: rumiLetters, ax: 2498, end: 2708, cx: [2540, 2604, 2669], bw: 41, tickSize: 12, titleAt: [2603, 1178], labelAt: [2458, 1285], segs: [{ t: 1200.7, b: 1370.7, min: 0, max: 0.03, ticks: [0, 0.01, 0.02, 0.03], dec: 2 }] },
  { title: 'Candidatus_Arthromitus', means: candMeans, uppers: candUpper, letters: candLetters, ax: 2759, end: 2972, cx: [2802, 2865, 2929], bw: 41, tickSize: 12, titleAt: [2870, 1179], labelAt: [2720, 1285], segs: [{ t: 1201.7, b: 1371.7, min: 0, max: 0.04, ticks: [0, 0.01, 0.02, 0.03, 0.04], dec: 2 }] },
  { title: 'unidentified_Clostridiales', means: closMeans, uppers: closUpper, letters: closLetters, ax: 3040, end: 3253, cx: [3082, 3146, 3210], bw: 41, tickSize: 12, titleAt: [3146, 1178], labelAt: [3001, 1285], segs: [{ t: 1200.7, b: 1370.7, min: 0, max: 0.05, ticks: [0, 0.01, 0.02, 0.03, 0.04, 0.05], dec: 2 }] },
];

// ---------- LDA ----------
const ldaColor: Record<string, string> = { CON: '#e00000', MOP: '#0060c8', TD: '#008000' };
function ldaPanel() {
  const rect = { l: 339, t: 1362, r: 1386, b: 2041 };
  const f = frame(rect, 339, 72, 60, 100);
  const deco = {
    id: 'ldaDeco',
    afterDatasetsDraw(ch: any) {
      const { ctx: c, scales: s, chartArea: a } = ch;
      c.save();
      c.strokeStyle = '#000';
      c.lineWidth = 1.5;
      c.setLineDash([2, 7]);
      s.x.ticks.forEach((t: any) => {
        const x = s.x.getPixelForValue(t.value);
        c.beginPath(); c.moveTo(x, a.top - 13); c.lineTo(x, a.bottom + 13); c.stroke();
      });
      c.setLineDash([]);
      c.translate(-f.x, -f.y);
      [[349, 'CON', 417], [519, 'MOP', 588], [690, 'TD', 758]].forEach(([x, g, tx]: any) => {
        c.fillStyle = ldaColor[g];
        c.fillRect(x, 1301, 49, 18);
        c.strokeStyle = '#222';
        c.lineWidth = 2;
        c.strokeRect(x, 1301, 49, 18);
        c.fillStyle = '#000';
        c.font = `bold 23px ${serif}`;
        c.textAlign = 'left';
        c.textBaseline = 'middle';
        c.fillText(g, tx, 1312);
      });
      c.restore();
    },
  };
  return {
    f,
    cfg: () => ({
      type: 'bar',
      data: {
        labels: ldaNames,
        datasets: [{ data: ldaScores, backgroundColor: ldaGroups.map((g) => ldaColor[g]), borderColor: '#111', borderWidth: 2, borderSkipped: false, barThickness: 23 }],
      },
      options: baseOpts(f, {
        indexAxis: 'y',
        scales: {
          x: {
            type: 'linear', bounds: 'data', min: 0, max: 6, afterBuildTicks: fixedTicks([0, 1, 2, 3, 4, 5, 6]), afterFit: fitX(f.B),
            ticks: { callback: (v: number) => String(v), font: { size: 26 }, padding: 19, maxRotation: 0, autoSkip: false },
            grid: { display: false }, border: { display: false },
          },
          y: {
            type: 'category', afterFit: fitY(f.L),
            ticks: { font: { size: 19.5 }, padding: 12, autoSkip: false },
            grid: { display: false }, border: { display: false },
          },
        },
      }),
      plugins: [deco, textsPlugin(f, [{ t: 'LDA SCORE (log 10)', x: 861, y: 2120, f: `28px ${serif}` }])],
    }),
  };
}

// ---------- HEATMAP ----------
const heatMatrix = [heatLacto, heatEntero, heatAero, heatCory, heatCand, heatEnte, heatJeot];
const mix = (a: number[], k: number) => {
  const m = (v: number) => Math.round(255 + (v - 255) * Math.min(1, k));
  return `rgb(${m(a[0])},${m(a[1])},${m(a[2])})`;
};
const heatColor = (v: number) => (v >= 0 ? mix([255, 59, 59], v / 0.8) : mix([0, 162, 255], -v / 0.82));
const barTicks = [0.5, 0, -0.5];
const barTickLabels = ['0.5', '0', '-0.5'];
function heatPanel() {
  const rect = { l: 2509, t: 1586, r: 3187, b: 1883 };
  const f = frame(rect, 345, 82, 175, 270);
  const points: { x: number; y: number }[] = [];
  const colors: string[] = [];
  heatMatrix.forEach((row, j) => row.forEach((v, i) => { points.push({ x: i, y: j }); colors.push(heatColor(v)); }));
  const deco = {
    id: 'heatDeco',
    afterDatasetsDraw(ch: any) {
      const { ctx: c, scales: s, chartArea: a } = ch;
      c.save();
      c.fillStyle = '#000';
      c.textAlign = 'center';
      c.textBaseline = 'middle';
      c.font = `bold 24px ${serif}`;
      heatStars.forEach((row, j) => row.forEach((st, i) => {
        if (st) c.fillText(st, s.x.getPixelForValue(i), s.y.getPixelForValue(j) + 7);
      }));
      c.strokeStyle = '#000';
      c.lineWidth = 1.5;
      [7.5, 12.5].forEach((v) => {
        const x = s.x.getPixelForValue(v);
        c.beginPath(); c.moveTo(x, a.top); c.lineTo(x, a.bottom); c.stroke();
      });
      c.lineWidth = 3;
      c.beginPath(); c.moveTo(a.left, a.top); c.lineTo(a.right, a.top); c.stroke();
      c.lineWidth = 2.5;
      c.beginPath(); c.moveTo(a.left, a.top); c.lineTo(a.left, a.bottom); c.lineTo(a.right, a.bottom); c.stroke();
      // colour bar
      c.translate(-f.x, -f.y);
      const g = c.createLinearGradient(0, 1586, 0, 1883);
      g.addColorStop(0, '#ff3b3b');
      g.addColorStop(0.495, '#ffffff');
      g.addColorStop(1, '#00a2ff');
      c.fillStyle = g;
      c.fillRect(3231, 1586, 44, 297);
      c.strokeStyle = '#aaa';
      c.lineWidth = 2;
      c.strokeRect(3231, 1586, 44, 297);
      c.fillStyle = '#000';
      c.font = `28px ${serif}`;
      c.textAlign = 'left';
      barTicks.forEach((v, i) => {
        c.fillText(barTickLabels[i], 3291, 1733 - v * 183);
      });
      c.restore();
    },
  };
  const items: T[] = [
    { t: 'Tibial Indicators', x: 2677, y: 1545, f: `bold 17px ${serif}` },
    { t: 'Oxidative Stress', x: 2942, y: 1542, f: `bold 17px ${serif}` },
    { t: 'BMP/Smads', x: 3114, y: 1533, f: `bold 17px ${serif}` },
    { t: 'Signaling', x: 3114, y: 1556, f: `bold 17px ${serif}` },
  ];
  return {
    f,
    cfg: () => ({
      type: 'scatter',
      data: { datasets: [{ data: points, pointStyle: 'rect', pointRadius: 30, pointBackgroundColor: colors, pointBorderColor: '#aaaaaa', pointBorderWidth: 1.5, showLine: false }] },
      options: baseOpts(f, {
        scales: {
          x: {
            type: 'linear', bounds: 'data', min: -0.5, max: 15.5, afterBuildTicks: fixedTicks(heatCols.map((_, i) => i)), afterFit: fitX(f.B),
            ticks: { callback: (v: number) => heatCols[v], font: { size: 24, weight: 'bold' }, padding: 4, minRotation: 90, maxRotation: 90, autoSkip: false },
            grid: { drawOnChartArea: false, tickLength: 10, color: '#000', lineWidth: 2 }, border: { display: false },
          },
          y: {
            type: 'linear', bounds: 'data', reverse: true, min: -0.5, max: 6.5, afterBuildTicks: fixedTicks(heatRows.map((_, i) => i)), afterFit: fitY(f.L),
            ticks: { callback: (v: number) => heatRows[v], font: { size: 23, weight: 'bold' }, padding: 1, autoSkip: false },
            grid: { drawOnChartArea: false, tickLength: 12, color: '#000', lineWidth: 2 }, border: { display: false },
          },
        },
      }),
      plugins: [deco, textsPlugin(f, items)],
    }),
  };
}

// ---------- ASSEMBLY ----------
const phylumPanel = stackPanel({
  names: phylumNames, colors: phylumColors, con: phylumCon, td: phylumTd, mop: phylumMop,
  rect: { l: 1667, t: 61, r: 2305, b: 550 }, cx: [1793, 1986.5, 2179.5], bw: 136, legendR: 220, legX: 2288, legY: 202, legStep: 17.35,
  title: 'Phylum', titleX: 1985, titleY: 36,
});
const genusPanel = stackPanel({
  names: genusNames, colors: genusColors, con: genusCon, td: genusTd, mop: genusMop,
  rect: { l: 1667, t: 642, r: 2310, b: 1115 }, cx: [1792.5, 1988, 2182], bw: 136.5, legendR: 260, legX: 2321, legY: 657, legStep: 17.45,
  title: 'Genus', titleX: 1987, titleY: 612,
});
phylumPanel.f.y = 61 - 45; phylumPanel.f.h += 40; phylumPanel.f.T = 45;
genusPanel.f.y = 642 - 50; genusPanel.f.h += 45; genusPanel.f.T = 50;

const panels: { f: Frame; cfg: () => any }[] = [
  vennAPanel(),
  pcoaPanel(),
  ...boxPanels.map(boxPanel),
  phylumPanel,
  genusPanel,
  ...barPanels.flatMap((p) => p.segs.map((s: any, i: number) => barSeg(p, s, i === 0))),
  ldaPanel(),
  vennGPanel(),
  heatPanel(),
];
const panelLetters: [string, number, number][] = [['A', 63, 55], ['B', 789, 56], ['C', 60, 668], ['D', 1550, 54], ['E', 1547, 642], ['F', 60, 1284], ['G', 1550, 1471], ['H', 2258, 1477]];

function ChartBox({ f, cfg }: { f: Frame; cfg: () => any }) {
  const ref = useRef<HTMLCanvasElement>(null);
  useEffect(() => {
    const chart = new Chart(ref.current as HTMLCanvasElement, cfg());
    return () => chart.destroy();
  }, []);
  return <canvas ref={ref} width={f.w} height={f.h} style={{ position: 'absolute', left: f.x, top: f.y, width: f.w, height: f.h }} />;
}

export default function App() {
  return (
    <div style={{ position: 'absolute', left: 0, top: 0, width: 3362, height: 2156, background: '#fff', overflow: 'hidden', fontFamily: serif }}>
      {panels.map((p, i) => <ChartBox key={i} f={p.f} cfg={p.cfg} />)}
      <div style={{ position: 'absolute', left: 1628, top: 581, width: 1659, height: 6, background: '#000' }} />
      {panelLetters.map(([t, x, y]) => (
        <div key={t} style={{ position: 'absolute', left: x, top: y, transform: 'translate(-50%,-50%)', font: `bold 80px ${serif}`, lineHeight: 1, color: '#000' }}>{t}</div>
      ))}
    </div>
  );
}
